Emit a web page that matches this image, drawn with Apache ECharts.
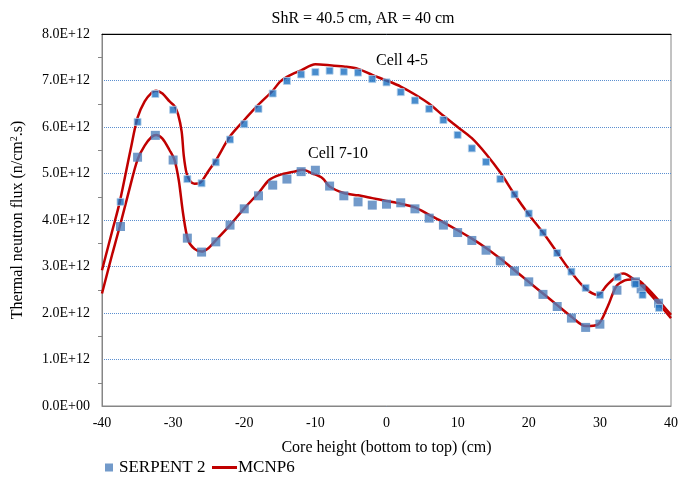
<!DOCTYPE html>
<html><head><meta charset="utf-8">
<script src="https://cdn.jsdelivr.net/npm/echarts@6/dist/echarts.min.js"></script>
<style>html,body{margin:0;padding:0;background:#fff}#c{width:681px;height:479px}</style>
</head><body><div id="c"></div>
<script>
// SERPENT 2 – Cell 4-5 (x in cm, flux in units of 1E12 n/cm2.s)
const serpentX45 = [-37.4,-35,-32.5,-30,-28,-26,-24,-22,-20,-18,-16,-14,-12,-10,-8,-6,-4,-2,0,2,4,6,8,10,12,14,16,18,20,22,24,26,28,30,32.5,35,36,38.3];
const serpentY45 = [4.39,6.11,6.71,6.37,4.88,4.79,5.24,5.73,6.06,6.39,6.72,6.99,7.13,7.18,7.21,7.19,7.17,7.03,6.96,6.75,6.57,6.39,6.15,5.83,5.54,5.25,4.88,4.55,4.14,3.73,3.29,2.89,2.54,2.39,2.77,2.62,2.39,2.11];
// SERPENT 2 – Cell 7-10
const serpentX710 = [-37.4,-35,-32.5,-30,-28,-26,-24,-22,-20,-18,-16,-14,-12,-10,-8,-6,-4,-2,0,2,4,6,8,10,12,14,16,18,20,22,24,26,28,30,32.4,35,35.8,38.25];
const serpentY710 = [3.86,5.35,5.82,5.29,3.61,3.31,3.53,3.89,4.24,4.52,4.75,4.88,5.04,5.07,4.73,4.52,4.39,4.32,4.34,4.37,4.24,4.04,3.89,3.73,3.56,3.35,3.12,2.90,2.67,2.40,2.14,1.89,1.69,1.76,2.49,2.67,2.52,2.21];
// MCNP6 – Cell 4-5
const mcnpX45 = [-40,-38.5,-37.5,-36,-35,-34,-33,-32.4,-31.5,-30.5,-29.8,-29.3,-28.8,-28.5,-28.1,-27.6,-27,-26.2,-25,-24,-22,-20,-18,-16,-15,-14,-12,-10,-8,-6,-4,-2,0,2,4,6,8,10,12,14,16,18,20,22,24,26,28,29.7,31,32.6,33.3,34.9,36.5,38.2,40];
const mcnpY45 = [2.92,3.8,4.39,5.5,6.2,6.55,6.74,6.78,6.72,6.55,6.45,6.27,5.9,5.38,5.0,4.84,4.78,4.8,5.06,5.28,5.8,6.15,6.48,6.78,6.97,7.08,7.22,7.35,7.33,7.3,7.25,7.12,7.0,6.87,6.7,6.5,6.24,6.0,5.76,5.42,5.02,4.55,4.12,3.73,3.3,2.87,2.52,2.39,2.6,2.82,2.85,2.71,2.5,2.21,1.89];
// MCNP6 – Cell 7-10
const mcnpX710 = [-40,-38.5,-37.5,-36,-35,-34,-33,-32.4,-31.5,-30.5,-29.8,-29.2,-28.6,-27.9,-27,-26,-25,-24.2,-22,-20,-18,-16.5,-15,-13,-11.8,-10.4,-9,-8,-6,-4,-2,0,2,4,6,8,10,12,14,16,18,20,22,24,26,28,29.7,31.1,32.3,33.5,34.4,35.3,36.5,38.2,40];
const mcnpY710 = [2.42,3.3,3.86,4.75,5.3,5.6,5.79,5.83,5.75,5.5,5.29,4.85,4.14,3.57,3.38,3.32,3.4,3.53,3.89,4.25,4.58,4.86,4.97,5.04,5.08,5.0,4.9,4.72,4.58,4.53,4.47,4.41,4.35,4.27,4.11,3.95,3.78,3.6,3.4,3.17,2.92,2.67,2.42,2.17,1.92,1.72,1.75,2.14,2.57,2.7,2.72,2.71,2.56,2.28,1.96];
const SCALE = 1e12;
const xTicks = {min:-40, max:40, interval:10};
const yTicks = {min:0, max:8e12, interval:1e12};

function pairs(xs, ys){ return xs.map((x,i)=>[x, ys[i]*SCALE]); }
const FONT = '"Liberation Serif","Times New Roman",serif';

const chart = echarts.init(document.getElementById('c'), null, {renderer:'canvas'});
chart.setOption({
  animation:false,
  backgroundColor:'#fff',
  title:{text:'ShR = 40.5 cm, AR = 40 cm', left:358, top:6, textAlign:'center',
    textStyle:{fontFamily:FONT, fontSize:16, fontWeight:'normal', color:'#000'}},
  grid:{left:102, right:8, top:34, bottom:73, show:true, borderColor:'#868686', borderWidth:1},
  legend:[
    {data:['SERPENT 2'], left:100, top:454, itemWidth:8, itemHeight:8, icon:'rect',
     textStyle:{fontFamily:FONT, fontSize:17, color:'#000', padding:[0,0,0,1]}},
    {data:[{name:'MCNP6', icon:'rect'}], left:207, top:454, itemWidth:25, itemHeight:3,
     textStyle:{fontFamily:FONT, fontSize:17, color:'#000', padding:[0,0,0,-4]}}
  ],
  xAxis:[{
    type:'value', min:xTicks.min, max:xTicks.max, interval:xTicks.interval,
    name:'Core height (bottom to top) (cm)', nameLocation:'middle', nameGap:34,
    nameTextStyle:{fontFamily:FONT, fontSize:16, color:'#000'},
    axisLine:{show:true, onZero:false, lineStyle:{color:'#868686', width:1}},
    axisTick:{show:false}, splitLine:{show:false},
    axisLabel:{fontFamily:FONT, fontSize:14, color:'#000', margin:10}
  },{
    type:'value', position:'top', min:xTicks.min, max:xTicks.max, interval:xTicks.interval,
    axisLine:{show:true, onZero:false, lineStyle:{color:'#000', width:1}},
    axisTick:{show:false}, axisLabel:{show:false}, splitLine:{show:false}
  }],
  yAxis:{
    type:'value', min:yTicks.min, max:yTicks.max, interval:yTicks.interval,
    name:'{a|Thermal neutron flux (n/cm}{s|2}{a|.s)}', nameLocation:'middle', nameGap:76, nameRotate:90,
    nameTextStyle:{rich:{
      a:{fontFamily:FONT, fontSize:16, color:'#000'},
      s:{fontFamily:FONT, fontSize:10, color:'#000', verticalAlign:'top', padding:[0,0,7,0]}
    }},
    axisLine:{show:true, onZero:false, lineStyle:{color:'#868686', width:1}},
    axisTick:{show:false},
    minorTick:{show:true, splitNumber:2, length:4, lineStyle:{color:'#868686'}},
    splitLine:{show:true, lineStyle:{color:'#5B8FD0', type:'dotted', width:1}},
    axisLabel:{fontFamily:FONT, fontSize:14, color:'#000', margin:12,
      formatter:function(v){ if(v===0) return '0.0E+00'; return (v/SCALE).toFixed(1)+'E+12'; }}
  },
  series:[
    {name:'MCNP6', type:'line', data:pairs(mcnpX45, mcnpY45), smooth:0.3, symbol:'none',
     lineStyle:{color:'#C00000', width:2.5}, itemStyle:{color:'#C00000'}, z:2},
    {name:'MCNP6', type:'line', data:pairs(mcnpX710, mcnpY710), smooth:0.3, symbol:'none',
     lineStyle:{color:'#C00000', width:2.5}, itemStyle:{color:'#C00000'}, z:2},
    {name:'SERPENT 2', type:'scatter', data:pairs(serpentX710, serpentY710), symbol:'rect', symbolSize:9,
     itemStyle:{color:'#4F81BD'}, z:3},
    {name:'SERPENT 2', type:'scatter', data:pairs(serpentX45, serpentY45), symbol:'rect', symbolSize:7,
     itemStyle:{color:'#1A6FC0', borderColor:'#B4CFEA', borderWidth:1}, z:4}
  ],
  graphic:[
    {type:'text', left:376, top:53, style:{text:'Cell 4-5', font:'16px '+FONT, fill:'#000'}},
    {type:'text', left:308, top:146, style:{text:'Cell 7-10', font:'16px '+FONT, fill:'#000'}}
  ]
});
</script></body></html>
